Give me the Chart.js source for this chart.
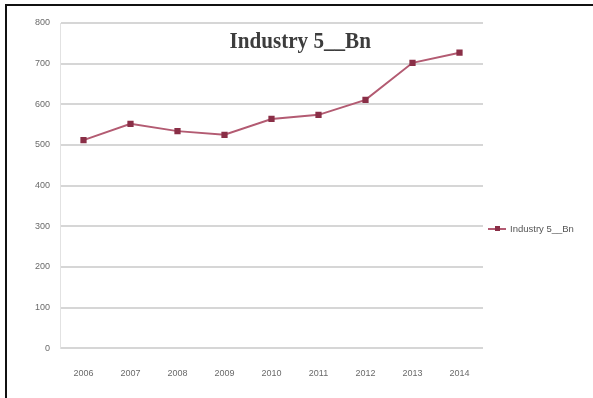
<!DOCTYPE html>
<html>
<head>
<meta charset="utf-8">
<script src="https://cdn.jsdelivr.net/npm/chart.js@4"></script>
<style>
    html, body { margin: 0; padding: 0; background: #fff; }
    #wrap {
        position: relative;
        width: 593px;
        height: 398px;
        background: #fff;
        overflow: hidden;
    }
    #frame {
        position: absolute;
        left: 5px; top: 4px;
        width: 600px; height: 400px;
        border-left: 2px solid #111;
        border-top: 2px solid #111;
        pointer-events: none;
    }
    #chartTitle {
        position: absolute;
        left: 150px; width: 300px;
        top: 27px;
        text-align: center;
        font-family: 'Liberation Serif', serif;
        font-weight: bold;
        font-size: 24px;
        color: #3d3d3d;
        transform: scaleX(0.88);
        transform-origin: 152px 0;
    }
    #legend {
        position: absolute;
        left: 488px; top: 223px;
        font-family: 'Liberation Sans', sans-serif;
        font-size: 9.5px;
        color: #555;
        white-space: nowrap;
        display: flex;
        align-items: center;
    }
    #legend .swatch {
        position: relative;
        width: 18px; height: 2px;
        background: #b35b72;
        margin-right: 4px;
    }
    #legend .swatch i {
        position: absolute;
        left: 7px; top: -2px;
        width: 5px; height: 5px;
        background: #8a2f47;
    }
</style>
</head>
<body>
<div id="wrap">
    <canvas id="industryChart" width="593" height="398"></canvas>
    <div id="chartTitle">Industry 5__Bn</div>
    <div id="legend"><span class="swatch"><i></i></span>Industry 5__Bn</div>
    <div id="frame"></div>
</div>
<script>
// Industry 5 output by year, in Bn
const years = ['2006', '2007', '2008', '2009', '2010', '2011', '2012', '2013', '2014'];
const industryValues = [512, 552, 534, 525, 564, 574, 611, 702, 727];
const yTicks = [0, 100, 200, 300, 400, 500, 600, 700, 800];

const ctx = document.getElementById('industryChart');
const industryChart = new Chart(ctx, {
    type: 'line',
    data: {
        labels: years,
        datasets: [{
            label: 'Industry 5__Bn',
            data: industryValues,
            borderColor: '#b35b72',
            borderWidth: 2,
            backgroundColor: '#8a2f47',
            pointBackgroundColor: '#8a2f47',
            pointBorderColor: '#8a2f47',
            pointStyle: 'rect',
            pointRadius: 3,
            tension: 0
        }]
    },
    options: {
        responsive: false,
        animation: false,
        layout: {
            padding: { left: 0, top: 23, right: 110, bottom: 2 }
        },
        scales: {
            y: {
                min: 0,
                max: 800,
                afterBuildTicks: function(scale) {
                    scale.ticks = yTicks.map(v => ({ value: v }));
                },
                afterFit: function(scale) {
                    scale.width = 60;
                },
                ticks: {
                    color: '#6a6a6a',
                    font: { family: 'Liberation Sans', size: 9 },
                    padding: 10
                },
                grid: {
                    color: '#d6d6d6',
                    lineWidth: 2,
                    drawTicks: false
                },
                border: { color: '#e2e2e2', width: 1 }
            },
            x: {
                offset: true,
                afterFit: function(scale) {
                    // give the plot a little more height below
                    scale.height = scale.height - 3;
                },
                ticks: {
                    color: '#6a6a6a',
                    font: { family: 'Liberation Sans', size: 9 },
                    padding: 20,
                    maxRotation: 0
                },
                grid: { display: false, drawTicks: false },
                border: { display: false }
            }
        },
        plugins: {
            legend: { display: false },
            title: { display: false },
            tooltip: { enabled: false }
        }
    }
});
</script>
</body>
</html>
